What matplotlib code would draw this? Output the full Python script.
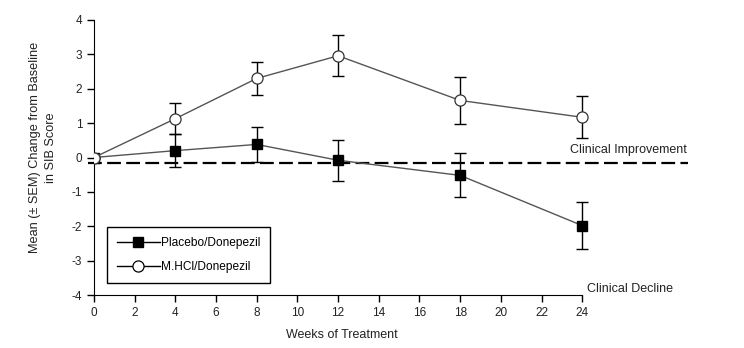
import matplotlib
matplotlib.use("Agg")

import matplotlib.pyplot as plt

plt.rcParams["font.family"] = ["Liberation Sans", "DejaVu Sans"]
plt.rcParams["font.size"] = 9
plt.rcParams["axes.unicode_minus"] = False

# ── SIB change from baseline, mean and SEM per visit ──────────────────────────
WEEKS = [0, 4, 8, 12, 18, 24]

PLACEBO_MEAN = [0.0, 0.20, 0.38, -0.08, -0.52, -1.98]
PLACEBO_SEM = [0.0, 0.48, 0.52, 0.60, 0.64, 0.69]

MHCL_MEAN = [0.0, 1.13, 2.30, 2.96, 1.66, 1.17]
MHCL_SEM = [0.0, 0.45, 0.49, 0.60, 0.69, 0.61]

REF_LINE = -0.15  # dividing line between improvement and decline
X_TICKS = list(range(0, 25, 2))
Y_TICKS = list(range(-4, 5))


def main():
    fig = plt.figure(figsize=(7.44, 3.48), dpi=100)
    ax = fig.add_axes([94 / 744, 1 - 295 / 348, 596 / 744, 275 / 348])

    ax.axhline(REF_LINE, xmin=-0.01, xmax=29.2 / 29.3, color="black", lw=1.6,
               dashes=(6.2, 2.4), zorder=1, clip_on=False)

    ax.errorbar(WEEKS, PLACEBO_MEAN, yerr=PLACEBO_SEM, fmt="none",
                ecolor="black", elinewidth=1, capsize=4.5, capthick=1, zorder=2)
    ax.errorbar(WEEKS, MHCL_MEAN, yerr=MHCL_SEM, fmt="none",
                ecolor="black", elinewidth=1, capsize=4.5, capthick=1, zorder=2)

    ax.plot(WEEKS, PLACEBO_MEAN, color="#555555", lw=1, marker="s",
            markersize=7.2, markerfacecolor="black", markeredgecolor="black",
            label="Placebo/Donepezil", zorder=3)
    ax.plot(WEEKS, MHCL_MEAN, color="#555555", lw=1, marker="o",
            markersize=8, markerfacecolor="white", markeredgecolor="#333333",
            markeredgewidth=0.9, label="M.HCl/Donepezil", zorder=3)

    ax.set_xlim(0, 29.3)
    ax.set_ylim(-4, 4)
    ax.set_xticks(X_TICKS)
    ax.set_yticks(Y_TICKS)
    ax.spines["top"].set_visible(False)
    ax.spines["right"].set_visible(False)
    ax.spines["bottom"].set_bounds(0, 24)
    ax.spines["left"].set_bounds(-4, 4)
    ax.tick_params(direction="out", length=5, width=1, pad=3.5, labelsize=8.5,
                   labelcolor="#222222")

    ax.text(23.4, 0.03, "Clinical Improvement", ha="left", va="bottom",
            fontsize=9, color="#222222")
    ax.text(24.25, -3.84, "Clinical Decline", ha="left", va="center",
            fontsize=9, color="#222222", clip_on=False)

    ax.set_xlabel("Weeks of Treatment", fontsize=9, color="#222222")
    ax.xaxis.set_label_coords(0.416, -0.122)
    ax.set_ylabel("Mean (\u00b1 SEM) Change from Baseline\nin SIB Score",
                  fontsize=9.2, linespacing=1.4, color="#222222")
    ax.yaxis.set_label_coords(-0.062, 0.536)

    leg = ax.legend(loc="lower left", bbox_to_anchor=(0.021, 0.0425),
                    borderaxespad=0, fancybox=False, edgecolor="black",
                    framealpha=1, handlelength=3.6, handletextpad=0.1,
                    labelspacing=1.0, borderpad=0.85, fontsize=8.6)
    leg.get_frame().set_linewidth(1)
    for h in leg.legend_handles:
        h.set_color("black")
        h.set_markeredgecolor("black")

    fig.savefig("out.png", dpi=100)
    plt.close(fig)


if __name__ == "__main__":
    main()
